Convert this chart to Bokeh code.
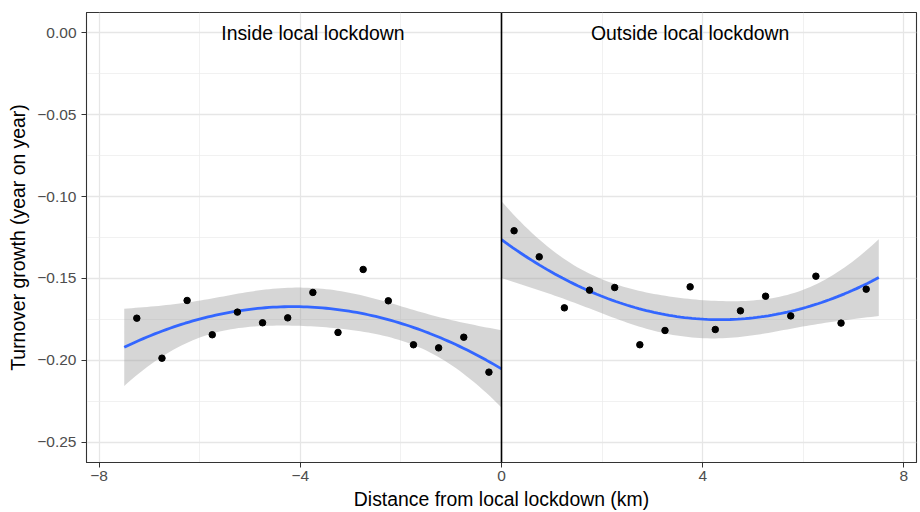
import numpy as np
from bokeh.plotting import figure
from bokeh.models import Range1d, FixedTicker, CustomJSTickFormatter, Span
from bokeh.core.properties import value
from bokeh.embed import file_html
from bokeh.resources import INLINE

# ---- data ----
x_inside = [-7.25, -6.75, -6.25, -5.75, -5.25, -4.75, -4.25, -3.75,
            -3.25, -2.75, -2.25, -1.75, -1.25, -0.75, -0.25]
y_inside = [-0.1742, -0.1986, -0.1634, -0.1843, -0.1705, -0.1770, -0.1740, -0.1585,
            -0.1829, -0.1445, -0.1636, -0.1904, -0.1923, -0.1858, -0.2071]
x_outside = [0.25, 0.75, 1.25, 1.75, 2.25, 2.75, 3.25, 3.75,
             4.25, 4.75, 5.25, 5.75, 6.25, 6.75, 7.25]
y_outside = [-0.1209, -0.1368, -0.1679, -0.1571, -0.1555, -0.1904, -0.1817, -0.1551,
             -0.1811, -0.1697, -0.1608, -0.1728, -0.1486, -0.1772, -0.1565]
smooth_range_inside = (-7.5, 0.0)
smooth_range_outside = (0.0, 7.5)
label_texts = ["Inside local lockdown", "Outside local lockdown"]
label_x = [-3.75, 3.75]
label_y = [0.0, 0.0]
x_ticks = [-8, -4, 0, 4, 8]
x_minor = [-6, -2, 2, 6]
y_ticks = [-0.25, -0.20, -0.15, -0.10, -0.05, 0.00]
y_minor = [-0.275, -0.225, -0.175, -0.125, -0.075, -0.025, 0.025]
T_975_DF12 = 2.178813


def quad_fit(xs, ys, lo, hi, n=100):
    xs = np.asarray(xs, float)
    ys = np.asarray(ys, float)
    X = np.column_stack([np.ones_like(xs), xs, xs ** 2])
    beta, *_ = np.linalg.lstsq(X, ys, rcond=None)
    resid = ys - X @ beta
    s2 = resid @ resid / (len(xs) - 3)
    XtXi = np.linalg.inv(X.T @ X)
    xg = np.linspace(lo, hi, n)
    Xg = np.column_stack([np.ones_like(xg), xg, xg ** 2])
    fit = Xg @ beta
    se = np.sqrt(np.einsum("ij,jk,ik->i", Xg, XtXi, Xg) * s2)
    return xg, fit, fit - T_975_DF12 * se, fit + T_975_DF12 * se


FONT = "Liberation Sans"

p = figure(width=918, height=510, output_backend="svg", toolbar_location=None,
           x_range=Range1d(-8.25, 8.25), y_range=Range1d(-0.2622, 0.0122),
           min_border_left=86, min_border_right=2, min_border_top=12, min_border_bottom=48)
p.frame_width = 830
p.frame_height = 450

p.background_fill_color = "white"
p.border_fill_color = "white"
p.outline_line_color = "#333333"
p.outline_line_width = 1.1

p.xaxis.ticker = FixedTicker(ticks=x_ticks, minor_ticks=x_minor)
p.yaxis.ticker = FixedTicker(ticks=y_ticks, minor_ticks=y_minor)
p.xaxis.formatter = CustomJSTickFormatter(
    code='return (tick < 0 ? "\\u2212" : "") + Math.abs(tick).toFixed(0);')
p.yaxis.formatter = CustomJSTickFormatter(
    code='var v = Math.abs(tick) < 1e-9 ? 0 : tick; return (v < 0 ? "\\u2212" : "") + Math.abs(v).toFixed(2);')

for ax in (p.xaxis, p.yaxis):
    ax.major_label_text_font = FONT
    ax.major_label_text_font_size = "15.5px"
    ax.major_label_text_color = "#4D4D4D"
    ax.axis_label_text_font = FONT
    ax.axis_label_text_font_size = "19.4px"
    ax.axis_label_text_font_style = "normal"
    ax.axis_label_text_color = "black"
    ax.major_tick_line_color = "#333333"
    ax.major_tick_out = 5
    ax.major_tick_in = 0
    ax.minor_tick_line_color = None
    ax.axis_line_color = "#333333"

p.xaxis.axis_label = "Distance from local lockdown (km)"
p.yaxis.axis_label = "Turnover growth (year on year)"
p.xaxis.major_label_standoff = 3
p.yaxis.major_label_standoff = 5
p.xaxis.axis_label_standoff = 4
p.yaxis.axis_label_standoff = 5

for g in (p.xgrid, p.ygrid):
    g.grid_line_color = "#E6E6E6"
    g.grid_line_width = 1.3
    g.minor_grid_line_color = "#EBEBEB"
    g.minor_grid_line_width = 0.7

for xs, ys, (lo, hi) in ((x_inside, y_inside, smooth_range_inside),
                         (x_outside, y_outside, smooth_range_outside)):
    xg, fit, low, up = quad_fit(xs, ys, lo, hi)
    p.varea(x=xg, y1=low, y2=up, fill_color="#999999", fill_alpha=0.4)
    p.line(x=xg, y=fit, line_color="#3366FF", line_width=2.8)
    p.scatter(x=xs, y=ys, size=6.5, color="black")

p.add_layout(Span(location=0, dimension="height", line_color="black", line_width=1.6))

p.text(x=label_x, y=label_y, text=label_texts, text_align="center",
       text_baseline="middle", text_font=value(FONT), text_font_size="19.4px",
       text_color="black")

open("out.html", "w").write(file_html(p, INLINE))
